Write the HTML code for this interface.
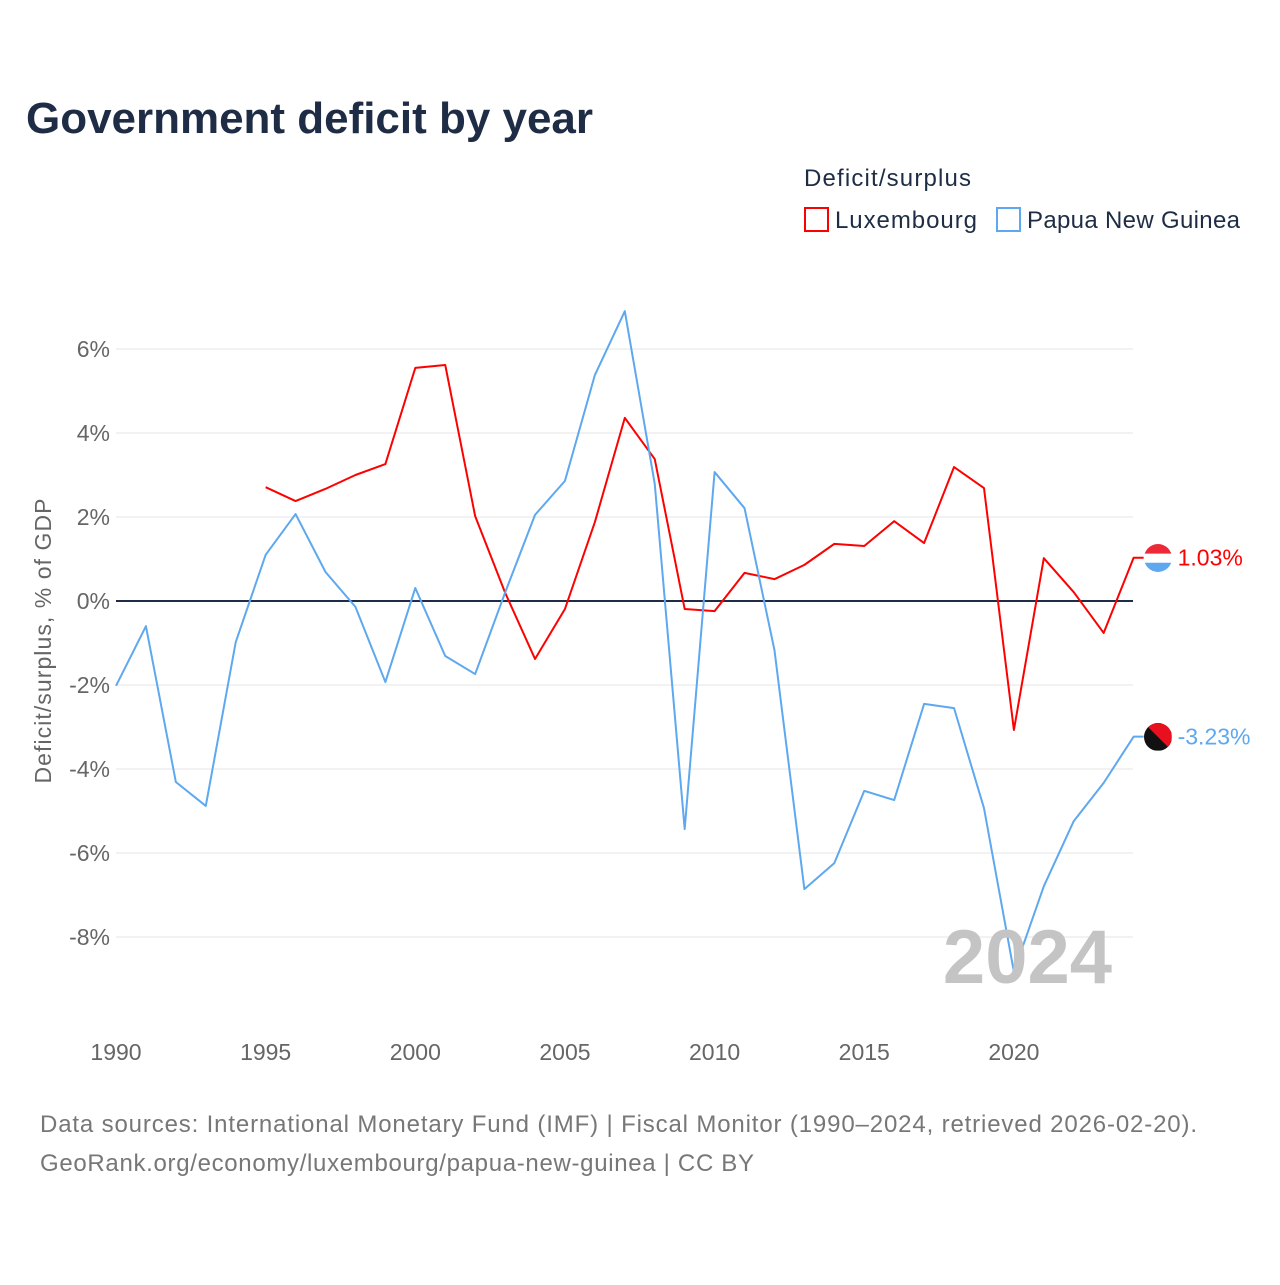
<!DOCTYPE html>
<html><head><meta charset="utf-8"><style>
body{margin:0;background:#fff;font-family:"Liberation Sans",sans-serif}
svg text{font-family:"Liberation Sans",sans-serif}
</style></head><body>
<svg width="1280" height="1280">
<defs>
<clipPath id="cl1"><circle cx="1158" cy="558" r="14"/></clipPath>
<clipPath id="cl2"><circle cx="1158" cy="737" r="14"/></clipPath>
</defs>
<text x="26" y="133" font-size="44" font-weight="bold" fill="#1e2d45" textLength="567">Government deficit by year</text>
<text x="804" y="186" font-size="24" fill="#1e2d45" textLength="167">Deficit/surplus</text>
<g><rect x="805" y="208" width="23" height="23" fill="#fff" stroke="#ff0000" stroke-width="2"/><text x="835" y="228" font-size="24" fill="#1e2d45" textLength="142">Luxembourg</text></g>
<g><rect x="997" y="208" width="23" height="23" fill="#fff" stroke="#5ea8ef" stroke-width="2"/><text x="1027" y="228" font-size="24" fill="#1e2d45" textLength="213">Papua New Guinea</text></g>
<g id="grid"></g><g id="lines"></g>
<text x="1112" y="983" text-anchor="end" font-size="76" font-weight="bold" fill="#c4c4c4">2024</text>
<text transform="translate(51,641) rotate(-90)" text-anchor="middle" font-size="23" fill="#666" textLength="285">Deficit/surplus, % of GDP</text>
<text x="40" y="1132" font-size="24" fill="#777" textLength="1157">Data sources: International Monetary Fund (IMF) | Fiscal Monitor (1990–2024, retrieved 2026-02-20).</text>
<text x="40" y="1171" font-size="24" fill="#777" textLength="714">GeoRank.org/economy/luxembourg/papua-new-guinea | CC BY</text>
</svg>
<script>
const yTicks=[6,4,2,0,-2,-4,-6,-8];
const xTicks=[1990,1995,2000,2005,2010,2015,2020];
const luxYears=[1995,1996,1997,1998,1999,2000,2001,2002,2003,2004,2005,2006,2007,2008,2009,2010,2011,2012,2013,2014,2015,2016,2017,2018,2019,2020,2021,2022,2023,2024];
const luxValues=[2.71,2.38,2.67,3.0,3.26,5.55,5.62,2.02,0.2,-1.38,-0.19,1.88,4.36,3.38,-0.19,-0.24,0.67,0.52,0.86,1.36,1.31,1.9,1.38,3.19,2.69,-3.07,1.02,0.21,-0.76,1.03];
const pngYears=[1990,1991,1992,1993,1994,1995,1996,1997,1998,1999,2000,2001,2002,2003,2004,2005,2006,2007,2008,2009,2010,2011,2012,2013,2014,2015,2016,2017,2018,2019,2020,2021,2022,2023,2024];
const pngValues=[-2.02,-0.6,-4.31,-4.88,-0.98,1.1,2.07,0.69,-0.14,-1.93,0.31,-1.31,-1.74,0.2,2.05,2.86,5.38,6.9,2.79,-5.43,3.07,2.21,-1.17,-6.86,-6.24,-4.52,-4.74,-2.45,-2.55,-4.93,-8.83,-6.79,-5.24,-4.33,-3.23];
const X=y=>116+(y-1990)*29.93, Y=v=>601-v*42;
const NS="http://www.w3.org/2000/svg";
const g=document.getElementById('grid'), L=document.getElementById('lines');
function mk(tag,a,p){const e=document.createElementNS(NS,tag);for(const k in a)e.setAttribute(k,a[k]);p.appendChild(e);return e;}
yTicks.forEach(t=>{
 const l=mk('line',{x1:116,x2:1133,y1:Y(t),y2:Y(t),stroke:t===0?'#1e2d45':'#e6e6e6','stroke-width':t===0?2:1},g);
 
 
 const tx=mk('text',{x:110,y:Y(t)+8,'text-anchor':'end','font-size':23,fill:'#666'},g);
 tx.textContent=t+'%';
 
 
});
xTicks.forEach(t=>{
 const tx=mk('text',{x:X(t),y:1060,'text-anchor':'middle','font-size':23,fill:'#666'},g);
 tx.textContent=t;
 
 
});
function line(ys,vs,c,name,flag){
 const ly=ys[ys.length-1], lv=vs[vs.length-1];
 const pts=ys.map((y,i)=>X(y)+','+Y(vs[i]));
 pts.push((X(ly)+10)+','+Y(lv));
 const p=mk('polyline',{points:pts.join(' '),fill:'none',stroke:c,'stroke-width':2,'stroke-linejoin':'round'},L);
 
 
 const cx=X(ly)+24, cy=Y(lv);
 const fg=mk('g',{},L);
 
 
 if(flag==='lux'){
  mk('rect',{x:cx-14,y:cy-14,width:28,height:10,fill:'#ed2939'},fg);
  mk('rect',{x:cx-14,y:cy-4,width:28,height:9,fill:'#fff'},fg);
  mk('rect',{x:cx-14,y:cy+5,width:28,height:10,fill:'#5ea8ef'},fg);
  fg.setAttribute('clip-path','url(#cl1)');
 } else {
  mk('rect',{x:cx-14,y:cy-14,width:28,height:28,fill:'#111'},fg);
  mk('polygon',{points:(cx-14)+','+(cy-14)+' '+(cx+14)+','+(cy-14)+' '+(cx+14)+','+(cy+14),fill:'#e8101e'},fg);
  fg.setAttribute('clip-path','url(#cl2)');
 }
 const t=mk('text',{x:X(ly)+44,y:Y(lv)+8,'font-size':23,fill:c},L);
 t.textContent=lv.toFixed(2)+'%';
 
 
}
line(luxYears,luxValues,'#ff0000','luxembourg-line','lux');
line(pngYears,pngValues,'#5ea8ef','png-line','png');
</script>
</body></html>
